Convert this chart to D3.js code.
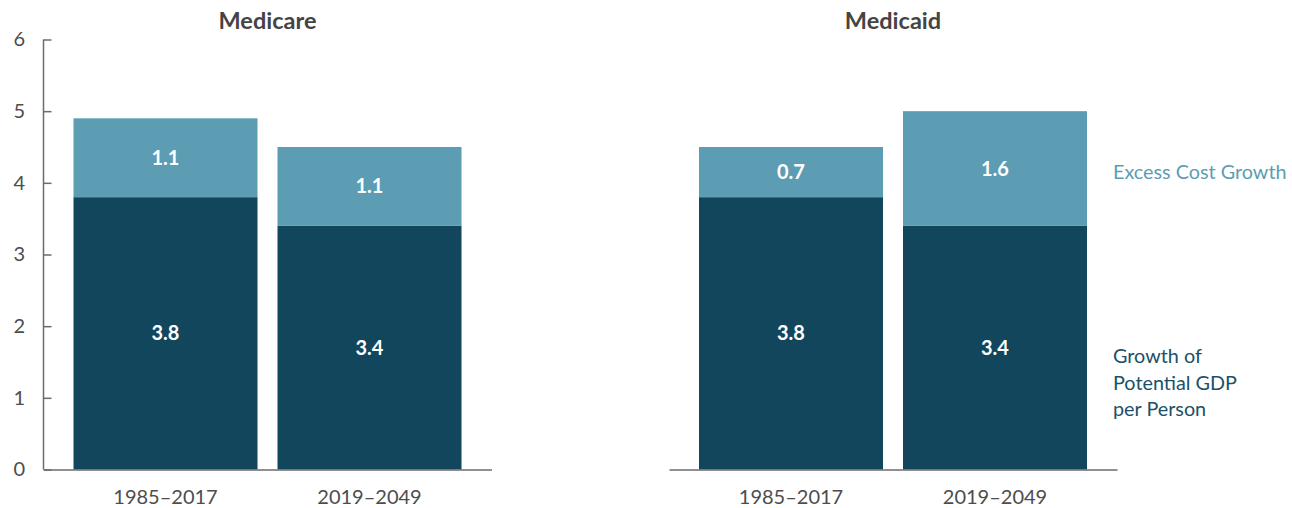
<!DOCTYPE html>
<html>
<head>
<meta charset="utf-8">
<script src="https://cdn.jsdelivr.net/npm/d3@7"></script>
<style>
	body { margin: 0; background: #fff; }
	svg { display: block; font-family: Lato, "Open Sans", sans-serif; }
</style>
</head>
<body>
<svg id="chart"></svg>
<script>
// data
const periods = ['1985\u20132017', '2019\u20132049'];
const programs = ['Medicare', 'Medicaid'];
const medicareGdp = [3.8, 3.4];
const medicareExcess = [1.1, 1.1];
const medicaidGdp = [3.8, 3.4];
const medicaidExcess = [0.7, 1.6];
const yTicks = [0, 1, 2, 3, 4, 5, 6];
const seriesKeys = ['gdp', 'excess'];
const legendExcess = ['Excess Cost Growth'];
const legendGdp = ['Growth of', 'Potential GDP', 'per Person'];

const colors = { gdp: '#11465c', excess: '#5c9db4' };

const W = 1292, H = 508;
const marg = { top: 39.5, bottom: 38.5 };
const panelW = 448;
const panelX = [43.5, 669]; // left edge of each panel

const svg = d3.select('#chart').attr('width', W).attr('height', H);

const y = d3.scaleLinear()
	.domain([0, 6])
	.range([H - marg.bottom, marg.top]);

const x = d3.scaleBand()
	.domain(periods)
	.range([0, panelW])
	.paddingInner(20 / 204)
	.paddingOuter(30 / 204);

const stack = d3.stack().keys(seriesKeys);

function rows(gdp, excess) {
	return periods.map((p, i) => ({ period: p, gdp: gdp[i], excess: excess[i] }));
}

const panelData = [rows(medicareGdp, medicareExcess), rows(medicaidGdp, medicaidExcess)];

panelData.forEach((tdata, pi) => {
	const g = svg.append('g').attr('transform', 'translate(' + panelX[pi] + ',0)');
	const layers = stack(tdata);

	g.selectAll('g.layer')
		.data(layers)
		.enter()
		.append('g')
		.attr('class', 'layer')
		.attr('fill', d => colors[d.key])
		.selectAll('rect')
		.data(d => d)
		.enter()
		.append('rect')
		.attr('x', d => x(d.data.period))
		.attr('y', d => y(d[1]))
		.attr('width', x.bandwidth())
		.attr('height', d => y(d[0]) - y(d[1]));

	// value labels, centred in each segment
	layers.forEach(layer => {
		g.selectAll(null)
			.data(layer)
			.enter()
			.append('text')
			.attr('x', d => x(d.data.period) + x.bandwidth() / 2)
			.attr('y', d => y((d[0] + d[1]) / 2))
			.attr('dy', '0.35em')
			.attr('text-anchor', 'middle')
			.attr('fill', '#fff')
			.attr('font-size', 20)
			.attr('font-weight', 700)
			.text(d => d3.format('.1f')(d.data[layer.key]));
	});

	// baseline + period labels
	const xAxis = d3.axisBottom(x).tickSize(0).tickPadding(20);
	const xg = g.append('g')
		.attr('transform', 'translate(0,' + y(0) + ')')
		.call(xAxis);
	xg.select('.domain').attr('stroke', '#6b6b6b').attr('stroke-width', 1.5);
	xg.selectAll('text')
		.attr('font-size', 20)
		.attr('font-family', 'Lato, sans-serif')
		.attr('fill', '#4d4d4d');

	// panel title
	g.append('text')
		.attr('x', panelW / 2)
		.attr('y', 29)
		.attr('text-anchor', 'middle')
		.attr('font-size', 23.5)
		.attr('font-weight', 700)
		.attr('fill', '#444')
		.text(programs[pi]);

	if (pi == 0) {
		const yAxis = d3.axisLeft(y)
			.tickValues(yTicks)
			.tickFormat(d3.format('d'))
			.tickSize(-8)
			.tickPadding(18.5);
		const yg = g.append('g').call(yAxis);
		yg.select('.domain').remove();
		yg.append('line')
			.attr('x1', 0).attr('x2', 0)
			.attr('y1', y(6)).attr('y2', y(0))
			.attr('stroke', '#6b6b6b').attr('stroke-width', 1.5);
		yg.selectAll('.tick line').attr('stroke', '#6b6b6b').attr('stroke-width', 1.5);
		yg.selectAll('text')
			.attr('font-size', 20)
			.attr('font-family', 'Lato, sans-serif')
			.attr('fill', '#4d4d4d');
	}
});

// legend, to the right of the Medicaid panel
const legX = 1113;
svg.append('text')
	.attr('x', legX)
	.attr('y', y(4.15))
	.attr('dy', '0.35em')
	.attr('font-size', 19.8)
	.attr('fill', colors.excess)
	.text(legendExcess[0]);

svg.append('g')
	.selectAll('text')
	.data(legendGdp)
	.enter()
	.append('text')
	.attr('x', legX)
	.attr('y', (d, i) => y(1.58) + i * 26.5)
	.attr('dy', '0.35em')
	.attr('font-size', 19.8)
	.attr('fill', '#1b5168')
	.text(d => d);
</script>
</body>
</html>
